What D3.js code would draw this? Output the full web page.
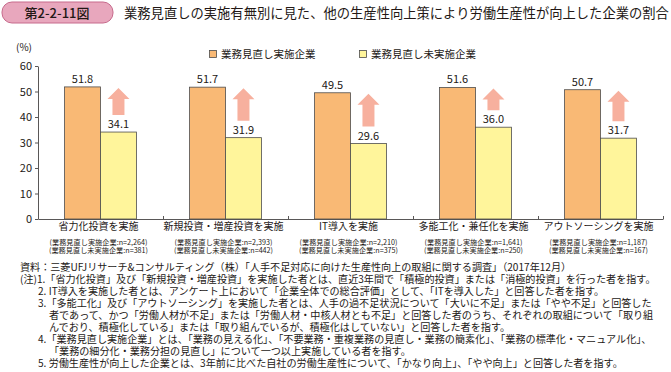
<!DOCTYPE html>
<html lang="ja">
<head>
<meta charset="utf-8">
<title>第2-2-11図</title>
<script src="https://d3js.org/d3.v7.min.js"></script>
<style>
body { margin: 0; background: #fff; }
svg text { font-family: "Noto Sans CJK JP", "Noto Sans", sans-serif; fill: #231815; }
</style>
</head>
<body>
<svg id="chart" width="671" height="372"></svg>
<script>
// data
var categories = ["省力化投資を実施", "新規投資・増産投資を実施", "IT導入を実施", "多能工化・兼任化を実施", "アウトソーシングを実施"];
var implemented = [51.8, 51.7, 49.5, 51.6, 50.7];
var notImplemented = [34.1, 31.9, 29.6, 36.0, 31.7];
var nImplemented = ["2,264", "2,393", "2,210", "1,641", "1,187"];
var nNotImplemented = ["381", "442", "375", "250", "167"];
var seriesNames = ["業務見直し実施企業", "業務見直し未実施企業"];
var yTicks = [0, 10, 20, 30, 40, 50, 60];
var notes = [
  "資料：三菱UFJリサーチ&コンサルティング（株）「人手不足対応に向けた生産性向上の取組に関する調査」（2017年12月）",
  "(注)1.「省力化投資」及び「新規投資・増産投資」を実施した者とは、直近3年間で「積極的投資」または「消極的投資」を行った者を指す。",
  "2. IT導入を実施した者とは、アンケート上において「企業全体での総合評価」として、「ITを導入した」と回答した者を指す。",
  "3.「多能工化」及び「アウトソーシング」を実施した者とは、人手の過不足状況について「大いに不足」または「やや不足」と回答した",
  "者であって、かつ「労働人材が不足」または「労働人材・中核人材とも不足」と回答した者のうち、それぞれの取組について「取り組",
  "んでおり、積極化している」または「取り組んでいるが、積極化はしていない」と回答した者を指す。",
  "4.「業務見直し実施企業」とは、「業務の見える化」、「不要業務・重複業務の見直し・業務の簡素化」、「業務の標準化・マニュアル化」、",
  "「業務の細分化・業務分担の見直し」について一つ以上実施している者を指す。",
  "5. 労働生産性が向上した企業とは、3年前に比べた自社の労働生産性について、「かなり向上」、「やや向上」と回答した者を指す。"
];
var noteIndent = [20, 20, 38, 38, 49, 49, 38, 49, 38];

var colors = ["#F9B975", "#FFF59B"];
var arrowColor = "#F7B09E";

var svg = d3.select("#chart");

// title badge
svg.append("rect")
    .attr("x", 2).attr("y", 2).attr("width", 111).attr("height", 21)
    .attr("rx", 10)
    .attr("fill", "#E8A7BD").attr("stroke", "#C76A8C").attr("stroke-width", 1);
svg.append("text")
    .attr("x", 57).attr("y", 17.5)
    .attr("text-anchor", "middle")
    .style("font-size", "13px").style("font-weight", "500")
    .text("第2-2-11図");
svg.append("text")
    .attr("x", 124).attr("y", 17.5)
    .style("font-size", "13.3px")
    .text("業務見直しの実施有無別に見た、他の生産性向上策により労働生産性が向上した企業の割合");

// scales
var x0 = d3.scaleBand().domain(categories).range([38, 663]);
var x1 = d3.scaleBand().domain(seriesNames).range([0, x0.bandwidth()]).paddingOuter(0.74);
var y = d3.scaleLinear().domain([0, 60]).range([219, 66]);

// y axis
var yAxis = svg.append("g")
    .attr("transform", "translate(38,0)")
    .call(d3.axisLeft(y).tickValues(yTicks).tickSize(3).tickSizeOuter(0));
yAxis.select(".domain").attr("stroke", "#595757");
yAxis.selectAll(".tick line").attr("stroke", "#595757");
yAxis.selectAll(".tick text")
    .attr("x", -6)
    .style("font-size", "11px")
    .style("font-family", "'Noto Sans CJK JP', sans-serif")
    .attr("fill", "#231815");

svg.append("text")
    .attr("x", 16).attr("y", 51)
    .style("font-size", "10px")
    .text("(%)");

// x axis with separator ticks
var sepTicks = categories.map(function(d) { return x0(d) + x0.bandwidth(); });
var xAxis = svg.append("g")
    .attr("transform", "translate(0,219)")
    .call(d3.axisTop(d3.scaleLinear().domain([38, 663]).range([38, 663]))
        .tickValues(sepTicks).tickSize(3).tickSizeOuter(0).tickFormat(""));
xAxis.select(".domain").attr("stroke", "#595757");
xAxis.selectAll(".tick line").attr("stroke", "#595757");

// bars
var groups = svg.selectAll(".grp")
    .data(categories)
    .enter().append("g")
    .attr("class", "grp")
    .attr("transform", function(d) { return "translate(" + x0(d) + ",0)"; });

groups.each(function(c, i) {
    var g = d3.select(this);
    var vals = [implemented[i], notImplemented[i]];
    vals.forEach(function(v, j) {
        g.append("rect")
            .attr("x", x1(seriesNames[j]))
            .attr("y", y(v))
            .attr("width", x1.bandwidth())
            .attr("height", y(0) - y(v))
            .attr("fill", colors[j])
            .attr("stroke", "#4d4d4d")
            .attr("stroke-width", 0.8);
        g.append("text")
            .attr("x", x1(seriesNames[j]) + x1.bandwidth() / 2)
            .attr("y", y(v) - 4)
            .attr("text-anchor", "middle")
            .style("font-size", "11px")
            .text(v.toFixed(1));
    });

    // arrow over the second bar
    var cx = x1(seriesNames[1]) + x1.bandwidth() / 2;
    var top = y(implemented[i]) + 1;
    var bottom = y(notImplemented[i]) - 17;
    var hw = 11, sw = 6, hh = 11;
    var pts = [
        [cx, top], [cx + hw, top + hh], [cx + sw, top + hh], [cx + sw, bottom],
        [cx - sw, bottom], [cx - sw, top + hh], [cx - hw, top + hh]
    ];
    g.append("path")
        .attr("d", d3.line()(pts) + "Z")
        .attr("fill", arrowColor);

    // category labels
    var mid = x0.bandwidth() / 2 - 2;
    g.append("text")
        .attr("x", mid).attr("y", 229.5)
        .attr("text-anchor", "middle")
        .style("font-size", "10px")
        .text(c);
    g.append("text")
        .attr("x", mid).attr("y", 244.5)
        .attr("text-anchor", "middle")
        .style("font-size", "7.2px")
        .text("(業務見直し実施企業:n=" + nImplemented[i] + ")");
    g.append("text")
        .attr("x", mid).attr("y", 253)
        .attr("text-anchor", "middle")
        .style("font-size", "7.2px")
        .text("(業務見直し未実施企業:n=" + nNotImplemented[i] + ")");
});

// legend
var legendX = [213, 363];
seriesNames.forEach(function(s, j) {
    svg.append("rect")
        .attr("x", legendX[j] - 3.5).attr("y", 50.5)
        .attr("width", 7).attr("height", 7)
        .attr("fill", colors[j]).attr("stroke", "#4d4d4d").attr("stroke-width", 0.8);
    svg.append("text")
        .attr("x", legendX[j] + 8).attr("y", 58)
        .style("font-size", "10.5px")
        .text(s);
});

// notes
svg.selectAll(".note")
    .data(notes)
    .enter().append("text")
    .attr("class", "note")
    .attr("x", function(d, i) { return noteIndent[i]; })
    .attr("y", function(d, i) { return 271 + i * 12; })
    .style("font-size", "10.1px")
    .text(function(d) { return d; });
</script>
</body>
</html>
